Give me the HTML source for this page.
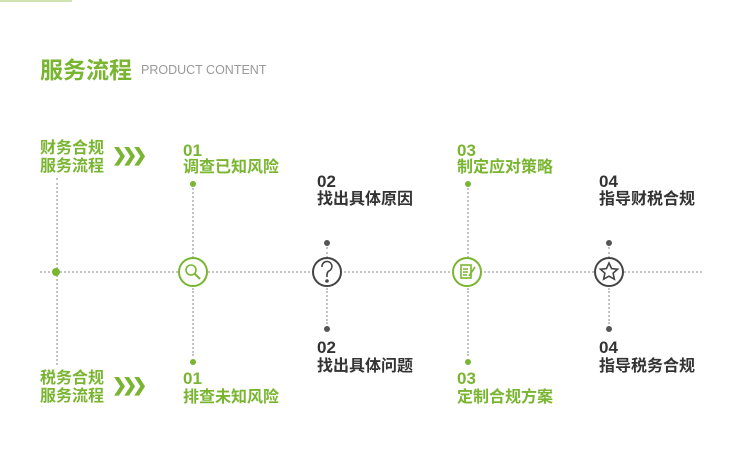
<!DOCTYPE html><html><head><meta charset="utf-8"><style>
body{margin:0;width:750px;height:471px;background:#fff;position:relative;overflow:hidden;font-family:"Liberation Sans","Noto Sans CJK SC",sans-serif}
.a{position:absolute;white-space:nowrap}
.g{color:#7ab532}.k{color:#333}
.n{font-size:17px;font-weight:bold;line-height:18px}
.t{font-size:16px;font-weight:bold;line-height:18px}
.h{border-top:2px dotted #c4c4c4;height:0}
.v{border-left:2px dotted #c4c4c4;width:0}
.d{width:6px;height:6px;border-radius:50%}
</style></head><body>
<div class="a" style="left:0;top:0;width:72px;height:2px;background:#cfe4b0"></div>
<div class="a g" style="left:40px;top:51px;font-size:23px;font-weight:bold">服务流程</div>
<div class="a" style="left:141px;top:63px;font-size:12.5px;color:#999">PRODUCT CONTENT</div>

<div class="a h" style="left:40px;top:271px;width:662px"></div>
<div class="a v" style="left:56px;top:178px;height:187px"></div>
<div class="a d" style="background:#7ab532;width:8px;height:8px;left:52px;top:268px"></div>

<div class="a g t" style="left:40px;top:140px">财务合规<br>服务流程</div>
<div class="a g" style="left:112px;top:145px;font-size:18px;font-weight:bold;letter-spacing:-5px">❯❯❯</div>
<div class="a g t" style="left:40px;top:370px">税务合规<br>服务流程</div>
<div class="a g" style="left:112px;top:375px;font-size:18px;font-weight:bold;letter-spacing:-5px">❯❯❯</div>

<div class="a g n" style="left:183px;top:142px">01</div>
<div class="a g t" style="left:183px;top:159px">调查已知风险</div>
<div class="a d" style="left:190px;top:181px;background:#7ab532"></div>
<div class="a v" style="left:192px;top:188px;height:70px"></div>
<div class="a v" style="left:192px;top:288px;height:68px"></div>
<div class="a d" style="left:190px;top:359px;background:#7ab532"></div>
<div class="a g n" style="left:183px;top:370px">01</div>
<div class="a g t" style="left:183px;top:389px">排查未知风险</div>

<div class="a k n" style="left:317px;top:173px">02</div>
<div class="a k t" style="left:317px;top:191px">找出具体原因</div>
<div class="a d" style="left:324px;top:240px;background:#555"></div>
<div class="a v" style="left:326px;top:247px;height:11px"></div>
<div class="a v" style="left:326px;top:288px;height:36px"></div>
<div class="a d" style="left:324px;top:326px;background:#555"></div>
<div class="a k n" style="left:317px;top:339px">02</div>
<div class="a k t" style="left:317px;top:358px">找出具体问题</div>

<div class="a g n" style="left:457px;top:142px">03</div>
<div class="a g t" style="left:457px;top:159px">制定应对策略</div>
<div class="a d" style="left:465px;top:181px;background:#7ab532"></div>
<div class="a v" style="left:467px;top:188px;height:70px"></div>
<div class="a v" style="left:467px;top:288px;height:68px"></div>
<div class="a d" style="left:465px;top:359px;background:#7ab532"></div>
<div class="a g n" style="left:457px;top:370px">03</div>
<div class="a g t" style="left:457px;top:389px">定制合规方案</div>

<div class="a k n" style="left:599px;top:173px">04</div>
<div class="a k t" style="left:599px;top:191px">指导财税合规</div>
<div class="a d" style="left:606px;top:240px;background:#555"></div>
<div class="a v" style="left:608px;top:247px;height:11px"></div>
<div class="a v" style="left:608px;top:288px;height:36px"></div>
<div class="a d" style="left:606px;top:326px;background:#555"></div>
<div class="a k n" style="left:599px;top:339px">04</div>
<div class="a k t" style="left:599px;top:358px">指导税务合规</div>

<svg class="a" style="left:0;top:0" width="750" height="471">
<g fill="#fff" stroke-width="2">
<circle cx="193" cy="272" r="14" stroke="#7ab532"/>
<circle cx="327" cy="272" r="14" stroke="#444"/>
<circle cx="467" cy="272" r="14" stroke="#7ab532"/>
<circle cx="609" cy="272" r="14" stroke="#444"/>
</g>
<g fill="none" stroke-width="1.6">
<circle cx="191" cy="270" r="5" stroke="#7ab532"/><line x1="195" y1="274" x2="200" y2="279" stroke="#7ab532" stroke-width="2"/>
<path d="M322 267 a5 5 0 1 1 7 4 q-2 1 -2 4 v2" stroke="#444"/><circle cx="327" cy="281" r="1" stroke="#444"/>
<rect x="461" y="265" width="10" height="13" stroke="#7ab532"/><path d="M463 269h5M463 272h5M463 275h4M469 276l6-9" stroke="#7ab532"/>
<path d="M609 263 l2.6 5.6 6 .6 -4.5 4 1.3 6 -5.4 -3 -5.4 3 1.3 -6 -4.5 -4 6 -.6z" stroke="#444"/>
</g></svg>
</body></html>
